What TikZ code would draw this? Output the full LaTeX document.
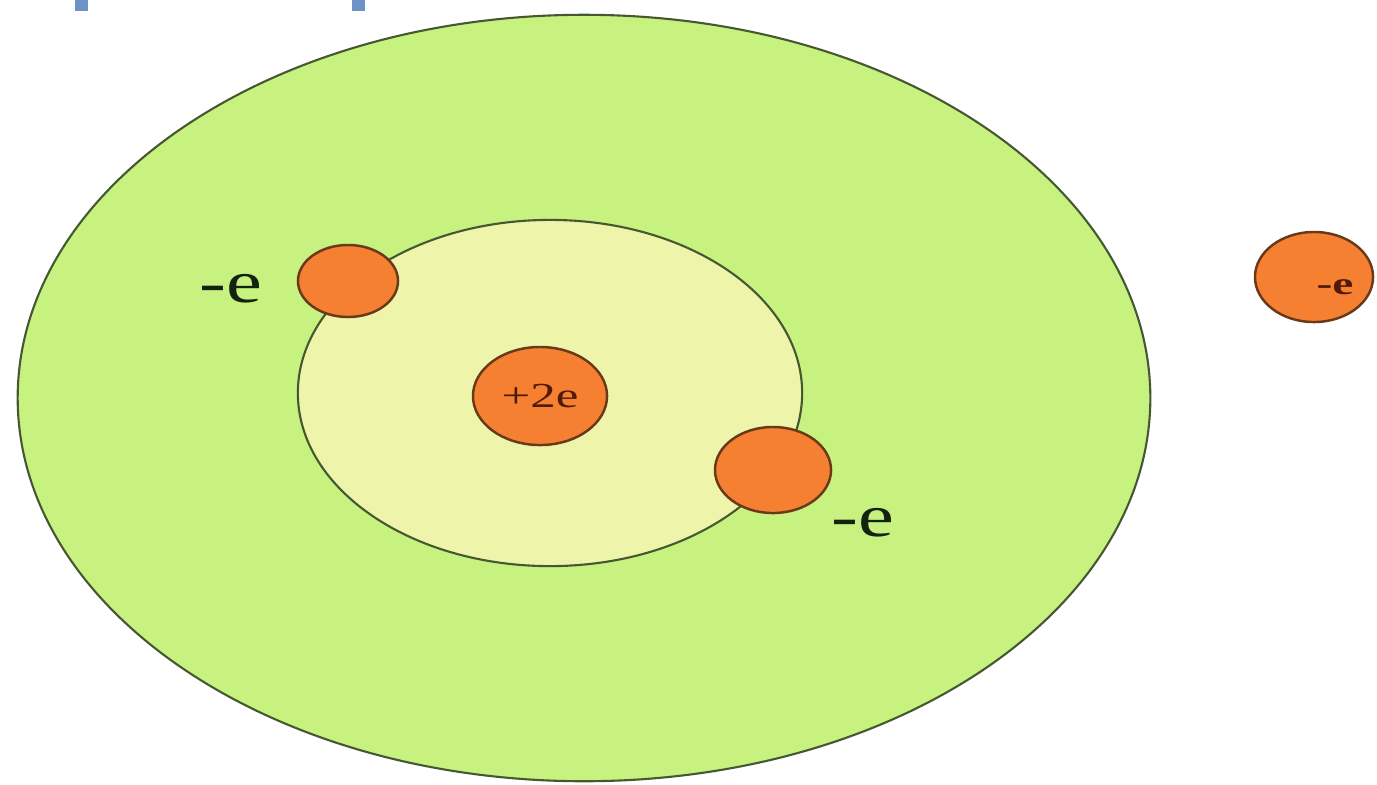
\documentclass[tikz,border=0pt]{standalone}
\usepackage{fontspec}
\setmainfont{Liberation Serif}
\usepackage{graphicx}
\usepackage{tikz}
\usetikzlibrary{shapes.geometric,positioning}
\definecolor{shellout}{RGB}{200,242,128}
\definecolor{shellin}{RGB}{238,245,170}
\definecolor{chargeorange}{RGB}{245,128,50}
\definecolor{rimdark}{RGB}{70,88,50}
\definecolor{rimbrown}{RGB}{105,58,25}
\definecolor{labelink}{RGB}{20,35,15}
\definecolor{coreink}{RGB}{80,25,10}
\definecolor{headblue}{RGB}{110,145,200}
\newcommand{\widetext}[2]{\scalebox{#1}[1]{#2}}
\tikzset{
  shell/.style={ellipse, draw=rimdark, line width=0.6pt, inner sep=0pt},
  particle/.style={ellipse, draw=rimbrown, fill=chargeorange, line width=0.7pt,
                   inner sep=0pt, text=coreink},
  charge/.style={inner sep=0pt, text=labelink, font=\fontsize{17}{20}\selectfont}
}
\begin{document}
\begin{tikzpicture}[x=0.01cm, y=-0.01cm]
\useasboundingbox (0,0) rectangle (1377,784);
% bits of the cut-off heading
\fill[headblue] (75,0) rectangle (88,11);
\fill[headblue] (352,0) rectangle (365,11);

% shells
\node[shell, fill=shellout, minimum width=11.32cm, minimum height=7.66cm] (outer) at (584,398) {};
\node[shell, fill=shellin, minimum width=5.04cm, minimum height=3.46cm] (inner) at (550,393) {};

% nucleus and electrons
\node[particle, minimum width=1.34cm, minimum height=0.98cm,
      font=\fontsize{10}{12}\selectfont] (core) at (540,396) {\widetext{1.45}{+2e}};
\node[particle, minimum width=1.00cm, minimum height=0.72cm] (elecA) at (348,281) {};
\node[particle, minimum width=1.16cm, minimum height=0.86cm] (elecB) at (773,470) {};
\node[particle, minimum width=1.18cm, minimum height=0.90cm] (elecFree) at (1314,277) {};

% charges
\node[charge] (labA) at (231,289) {\widetext{1.35}{-e}};
\node[charge] (labB) at (863,523) {\widetext{1.35}{-e}};
\node[inner sep=0pt, text=coreink, font=\fontsize{9}{11}\selectfont\bfseries] (labFree) at (1335,287) {\widetext{1.5}{-e}};
\end{tikzpicture}
\end{document}
